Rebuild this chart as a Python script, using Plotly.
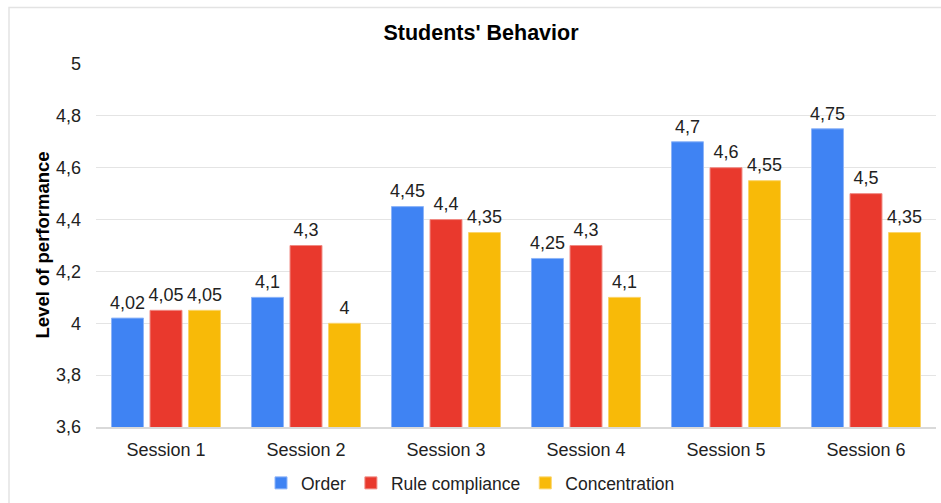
import plotly.graph_objects as go

sessions = ["Session 1", "Session 2", "Session 3", "Session 4", "Session 5", "Session 6"]
order = [4.02, 4.1, 4.45, 4.25, 4.7, 4.75]
rule_compliance = [4.05, 4.3, 4.4, 4.3, 4.6, 4.5]
concentration = [4.05, 4.0, 4.35, 4.1, 4.55, 4.35]
y_ticks = [3.6, 3.8, 4.0, 4.2, 4.4, 4.6, 4.8, 5.0]

series = [
    ("Order", order, "#3f83f3", "#8db4f8"),
    ("Rule compliance", rule_compliance, "#e9392d", "#f08a83"),
    ("Concentration", concentration, "#f8ba08", "#fbd56b"),
]

FONT = "Liberation Sans, Arial, Helvetica, sans-serif"
GAP = 0.175

def fmt(v):
    s = ("%.2f" % v).rstrip("0").rstrip(".")
    return s.replace(".", ",")

fig = go.Figure()
for name, vals, color, edge in series:
    fig.add_trace(go.Bar(
        x=sessions, y=vals, name=name,
        marker=dict(color=color, line=dict(color=edge, width=1)),
    ))
# value labels, grouped the same way as the bars
for name, vals, color, edge in series:
    fig.add_trace(go.Scatter(
        x=sessions, y=vals, name=name + " labels", showlegend=False,
        mode="markers+text",
        marker=dict(size=6, opacity=0, color=color),
        text=[fmt(v) for v in vals],
        textposition="top center",
        cliponaxis=False, hoverinfo="skip",
        textfont=dict(family=FONT, size=18, color="#222222"),
    ))

fig.update_layout(
    width=941, height=503,
    margin=dict(l=96, r=5, t=64, b=76),
    paper_bgcolor="white", plot_bgcolor="white",
    separators=", ",
    barmode="group", bargap=GAP, bargroupgap=0.17,
    scattermode="group", scattergap=GAP,
    font=dict(family=FONT, size=18, color="#222222"),
    title=dict(text="<b>Students' Behavior</b>", x=481 / 941, xref="container",
               xanchor="center", y=1 - 32 / 503, yref="container", yanchor="middle",
               font=dict(family=FONT, size=21.5, color="#000000")),
    legend=dict(orientation="h", x=0.5, xref="container", xanchor="center",
                y=1 - 483 / 503, yref="container", yanchor="middle",
                font=dict(family=FONT, size=17.5, color="#222222"),
                itemwidth=30, tracegroupgap=0),
    showlegend=True,
)

fig.update_yaxes(
    range=[3.6, 5.0], tickvals=y_ticks, ticktext=[fmt(v) for v in y_ticks],
    showgrid=True, gridcolor="#e4e4e4", gridwidth=1,
    zeroline=False, showline=False, ticks="", ticklabelstandoff=14,
    tickfont=dict(family=FONT, size=18, color="#222222"),
)
fig.update_xaxes(
    showgrid=False, showline=True, linecolor="#d9d9d9", linewidth=1.5,
    ticks="", ticklabelstandoff=6,
    tickfont=dict(family=FONT, size=18, color="#222222"),
)

fig.add_annotation(
    text="<b>Level of performance</b>", textangle=-90,
    x=(42 - 96) / 840, xref="paper", xanchor="center",
    y=0.5, yref="paper", yanchor="middle", showarrow=False,
    font=dict(family=FONT, size=18.5, color="#000000"),
)

# outer light frame of the chart card
fig.add_shape(type="rect", xref="paper", yref="paper",
              x0=(9 - 96) / 840, x1=1.2, y0=-0.5, y1=1 + (64 - 7.5) / 363,
              line=dict(color="#e3e3e3", width=1.5), fillcolor="rgba(0,0,0,0)",
              layer="below")

fig.write_html("out.html")
